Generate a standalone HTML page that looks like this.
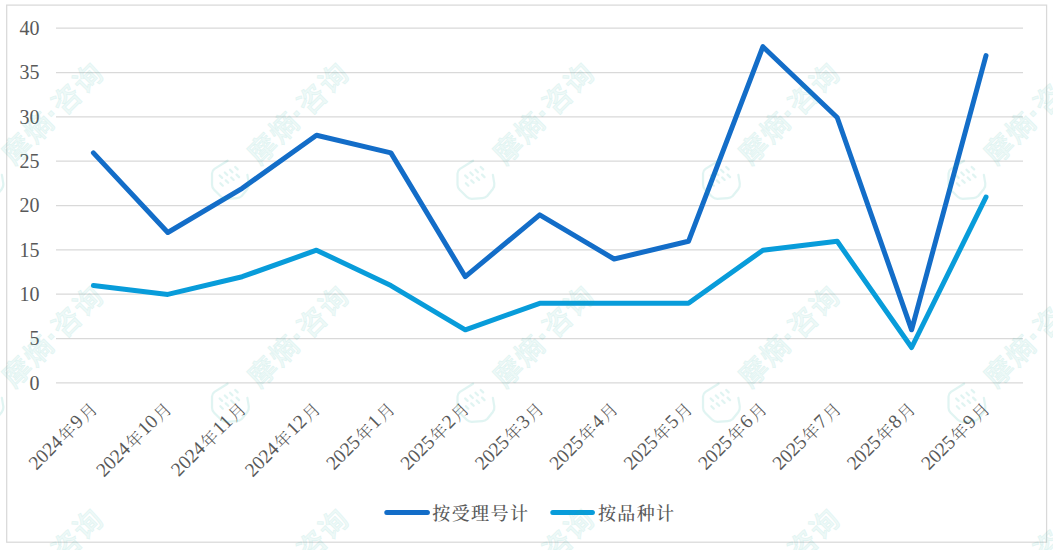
<!DOCTYPE html>
<html><head><meta charset="utf-8"><title>chart</title>
<style>
html,body{margin:0;padding:0;background:#fff;}
body{width:1053px;height:550px;overflow:hidden;}
svg{display:block;}
.ax{font-family:"Liberation Serif","Noto Serif CJK SC",serif;font-size:20px;fill:#595959;}
.xl{font-size:19.5px;}
.c{font-family:"Noto Serif CJK SC",serif;font-size:17px;font-weight:300;}
.lg{font-family:"Liberation Serif","Noto Serif CJK SC",serif;font-size:18px;fill:#595959;letter-spacing:1.4px;font-weight:500;}
</style></head>
<body>
<svg width="1053" height="550" viewBox="0 0 1053 550">

<rect x="6.7" y="5.1" width="1039.9" height="537.1" fill="none" stroke="#d9d9d9" stroke-width="1.25"/>
<g stroke="#d9d9d9" stroke-width="1.25"><line x1="56.0" y1="382.9" x2="1023.0" y2="382.9"/><line x1="56.0" y1="338.56" x2="1023.0" y2="338.56"/><line x1="56.0" y1="294.22" x2="1023.0" y2="294.22"/><line x1="56.0" y1="249.89" x2="1023.0" y2="249.89"/><line x1="56.0" y1="205.55" x2="1023.0" y2="205.55"/><line x1="56.0" y1="161.21" x2="1023.0" y2="161.21"/><line x1="56.0" y1="116.88" x2="1023.0" y2="116.88"/><line x1="56.0" y1="72.54" x2="1023.0" y2="72.54"/><line x1="56.0" y1="28.2" x2="1023.0" y2="28.2"/></g>
<g class="ax" text-anchor="end"><text x="39.5" y="389.7">0</text><text x="39.5" y="345.4">5</text><text x="39.5" y="301.0">10</text><text x="39.5" y="256.7">15</text><text x="39.5" y="212.3">20</text><text x="39.5" y="168.0">25</text><text x="39.5" y="123.7">30</text><text x="39.5" y="79.3">35</text><text x="39.5" y="35.0">40</text></g>
<g class="ax xl" text-anchor="end"><text transform="translate(97.7,409.6) rotate(-45)">2024<tspan class="c" dx="1.3" dy="1">年</tspan><tspan dx="1.3" dy="-1">9</tspan><tspan class="c" dx="1.3" dy="1">月</tspan></text><text transform="translate(172.1,409.6) rotate(-45)">2024<tspan class="c" dx="1.3" dy="1">年</tspan><tspan dx="1.3" dy="-1">10</tspan><tspan class="c" dx="1.3" dy="1">月</tspan></text><text transform="translate(246.5,409.6) rotate(-45)">2024<tspan class="c" dx="1.3" dy="1">年</tspan><tspan dx="1.3" dy="-1">11</tspan><tspan class="c" dx="1.3" dy="1">月</tspan></text><text transform="translate(320.8,409.6) rotate(-45)">2024<tspan class="c" dx="1.3" dy="1">年</tspan><tspan dx="1.3" dy="-1">12</tspan><tspan class="c" dx="1.3" dy="1">月</tspan></text><text transform="translate(395.2,409.6) rotate(-45)">2025<tspan class="c" dx="1.3" dy="1">年</tspan><tspan dx="1.3" dy="-1">1</tspan><tspan class="c" dx="1.3" dy="1">月</tspan></text><text transform="translate(469.6,409.6) rotate(-45)">2025<tspan class="c" dx="1.3" dy="1">年</tspan><tspan dx="1.3" dy="-1">2</tspan><tspan class="c" dx="1.3" dy="1">月</tspan></text><text transform="translate(544.0,409.6) rotate(-45)">2025<tspan class="c" dx="1.3" dy="1">年</tspan><tspan dx="1.3" dy="-1">3</tspan><tspan class="c" dx="1.3" dy="1">月</tspan></text><text transform="translate(618.4,409.6) rotate(-45)">2025<tspan class="c" dx="1.3" dy="1">年</tspan><tspan dx="1.3" dy="-1">4</tspan><tspan class="c" dx="1.3" dy="1">月</tspan></text><text transform="translate(692.8,409.6) rotate(-45)">2025<tspan class="c" dx="1.3" dy="1">年</tspan><tspan dx="1.3" dy="-1">5</tspan><tspan class="c" dx="1.3" dy="1">月</tspan></text><text transform="translate(767.2,409.6) rotate(-45)">2025<tspan class="c" dx="1.3" dy="1">年</tspan><tspan dx="1.3" dy="-1">6</tspan><tspan class="c" dx="1.3" dy="1">月</tspan></text><text transform="translate(841.5,409.6) rotate(-45)">2025<tspan class="c" dx="1.3" dy="1">年</tspan><tspan dx="1.3" dy="-1">7</tspan><tspan class="c" dx="1.3" dy="1">月</tspan></text><text transform="translate(915.9,409.6) rotate(-45)">2025<tspan class="c" dx="1.3" dy="1">年</tspan><tspan dx="1.3" dy="-1">8</tspan><tspan class="c" dx="1.3" dy="1">月</tspan></text><text transform="translate(990.3,409.6) rotate(-45)">2025<tspan class="c" dx="1.3" dy="1">年</tspan><tspan dx="1.3" dy="-1">9</tspan><tspan class="c" dx="1.3" dy="1">月</tspan></text></g>
<polyline points="93.4,152.9 167.8,232.5 242.2,188.3 316.5,135.2 390.9,152.9 465.3,276.7 539.7,214.8 614.1,259.0 688.5,241.3 762.9,46.7 837.2,117.5 911.6,329.8 986.0,55.6" fill="none" stroke="#136dc8" stroke-width="5" stroke-linecap="round" stroke-linejoin="round"/>
<polyline points="93.4,285.6 167.8,294.4 242.2,276.7 316.5,250.2 390.9,285.6 465.3,329.8 539.7,303.3 614.1,303.3 688.5,303.3 762.9,250.2 837.2,241.3 911.6,347.5 986.0,197.1" fill="none" stroke="#089cda" stroke-width="5" stroke-linecap="round" stroke-linejoin="round"/>
<line x1="386.8" y1="512.6" x2="427.4" y2="512.6" stroke="#136dc8" stroke-width="5" stroke-linecap="round"/>
<line x1="552.8" y1="512.6" x2="592.4" y2="512.6" stroke="#089cda" stroke-width="5" stroke-linecap="round"/>
<text class="lg" x="432.3" y="520.2">按受理号计</text>
<text class="lg" x="597.9" y="520.2">按品种计</text>
<g id="wms"><g transform="translate(-260.6,-42.5) rotate(-45)" opacity="0.13">
 <path d="M12,-16 L-3,-19.5 Q-6,-20 -8,-18 L-16,-10 Q-18,-8 -18,-5 L-18,5 Q-18,8 -16,10 L-8,17 Q-6,19 -3,19 L6,18 Q9,17.5 11,15 L16,8" fill="none" stroke="#19afa0" stroke-width="2.2" stroke-linejoin="round" stroke-linecap="round"/>
 <path d="M-4.0,-11.2v3.5M1.7,-9.6v3.5M7.3,-7.9v3.5M13.0,-6.2v3.5M-9.0,-5.2v3.5M-3.2,-3.4v3.5M2.7,-1.6v3.5M8.5,0.2v3.5" fill="none" stroke="#19afa0" stroke-width="2.2" stroke-linecap="round"/>
 <text x="31" y="10.6" fill="#19afa0" fill-opacity="0.55" stroke="#19afa0" stroke-width="0.8" font-family="'Noto Sans CJK SC',sans-serif" font-weight="500" font-size="28" letter-spacing="2">摩熵<tspan font-family="'Liberation Sans',sans-serif" font-weight="700" font-size="30" dx="-1" dy="-1">·</tspan><tspan dy="1" dx="-1">咨询</tspan></text>
</g><g transform="translate(-260.6,180.5) rotate(-45)" opacity="0.13">
 <path d="M12,-16 L-3,-19.5 Q-6,-20 -8,-18 L-16,-10 Q-18,-8 -18,-5 L-18,5 Q-18,8 -16,10 L-8,17 Q-6,19 -3,19 L6,18 Q9,17.5 11,15 L16,8" fill="none" stroke="#19afa0" stroke-width="2.2" stroke-linejoin="round" stroke-linecap="round"/>
 <path d="M-4.0,-11.2v3.5M1.7,-9.6v3.5M7.3,-7.9v3.5M13.0,-6.2v3.5M-9.0,-5.2v3.5M-3.2,-3.4v3.5M2.7,-1.6v3.5M8.5,0.2v3.5" fill="none" stroke="#19afa0" stroke-width="2.2" stroke-linecap="round"/>
 <text x="31" y="10.6" fill="#19afa0" fill-opacity="0.55" stroke="#19afa0" stroke-width="0.8" font-family="'Noto Sans CJK SC',sans-serif" font-weight="500" font-size="28" letter-spacing="2">摩熵<tspan font-family="'Liberation Sans',sans-serif" font-weight="700" font-size="30" dx="-1" dy="-1">·</tspan><tspan dy="1" dx="-1">咨询</tspan></text>
</g><g transform="translate(-260.6,403.5) rotate(-45)" opacity="0.13">
 <path d="M12,-16 L-3,-19.5 Q-6,-20 -8,-18 L-16,-10 Q-18,-8 -18,-5 L-18,5 Q-18,8 -16,10 L-8,17 Q-6,19 -3,19 L6,18 Q9,17.5 11,15 L16,8" fill="none" stroke="#19afa0" stroke-width="2.2" stroke-linejoin="round" stroke-linecap="round"/>
 <path d="M-4.0,-11.2v3.5M1.7,-9.6v3.5M7.3,-7.9v3.5M13.0,-6.2v3.5M-9.0,-5.2v3.5M-3.2,-3.4v3.5M2.7,-1.6v3.5M8.5,0.2v3.5" fill="none" stroke="#19afa0" stroke-width="2.2" stroke-linecap="round"/>
 <text x="31" y="10.6" fill="#19afa0" fill-opacity="0.55" stroke="#19afa0" stroke-width="0.8" font-family="'Noto Sans CJK SC',sans-serif" font-weight="500" font-size="28" letter-spacing="2">摩熵<tspan font-family="'Liberation Sans',sans-serif" font-weight="700" font-size="30" dx="-1" dy="-1">·</tspan><tspan dy="1" dx="-1">咨询</tspan></text>
</g><g transform="translate(-260.6,626.5) rotate(-45)" opacity="0.13">
 <path d="M12,-16 L-3,-19.5 Q-6,-20 -8,-18 L-16,-10 Q-18,-8 -18,-5 L-18,5 Q-18,8 -16,10 L-8,17 Q-6,19 -3,19 L6,18 Q9,17.5 11,15 L16,8" fill="none" stroke="#19afa0" stroke-width="2.2" stroke-linejoin="round" stroke-linecap="round"/>
 <path d="M-4.0,-11.2v3.5M1.7,-9.6v3.5M7.3,-7.9v3.5M13.0,-6.2v3.5M-9.0,-5.2v3.5M-3.2,-3.4v3.5M2.7,-1.6v3.5M8.5,0.2v3.5" fill="none" stroke="#19afa0" stroke-width="2.2" stroke-linecap="round"/>
 <text x="31" y="10.6" fill="#19afa0" fill-opacity="0.55" stroke="#19afa0" stroke-width="0.8" font-family="'Noto Sans CJK SC',sans-serif" font-weight="500" font-size="28" letter-spacing="2">摩熵<tspan font-family="'Liberation Sans',sans-serif" font-weight="700" font-size="30" dx="-1" dy="-1">·</tspan><tspan dy="1" dx="-1">咨询</tspan></text>
</g><g transform="translate(-15.1,-42.5) rotate(-45)" opacity="0.13">
 <path d="M12,-16 L-3,-19.5 Q-6,-20 -8,-18 L-16,-10 Q-18,-8 -18,-5 L-18,5 Q-18,8 -16,10 L-8,17 Q-6,19 -3,19 L6,18 Q9,17.5 11,15 L16,8" fill="none" stroke="#19afa0" stroke-width="2.2" stroke-linejoin="round" stroke-linecap="round"/>
 <path d="M-4.0,-11.2v3.5M1.7,-9.6v3.5M7.3,-7.9v3.5M13.0,-6.2v3.5M-9.0,-5.2v3.5M-3.2,-3.4v3.5M2.7,-1.6v3.5M8.5,0.2v3.5" fill="none" stroke="#19afa0" stroke-width="2.2" stroke-linecap="round"/>
 <text x="31" y="10.6" fill="#19afa0" fill-opacity="0.55" stroke="#19afa0" stroke-width="0.8" font-family="'Noto Sans CJK SC',sans-serif" font-weight="500" font-size="28" letter-spacing="2">摩熵<tspan font-family="'Liberation Sans',sans-serif" font-weight="700" font-size="30" dx="-1" dy="-1">·</tspan><tspan dy="1" dx="-1">咨询</tspan></text>
</g><g transform="translate(-15.1,180.5) rotate(-45)" opacity="0.13">
 <path d="M12,-16 L-3,-19.5 Q-6,-20 -8,-18 L-16,-10 Q-18,-8 -18,-5 L-18,5 Q-18,8 -16,10 L-8,17 Q-6,19 -3,19 L6,18 Q9,17.5 11,15 L16,8" fill="none" stroke="#19afa0" stroke-width="2.2" stroke-linejoin="round" stroke-linecap="round"/>
 <path d="M-4.0,-11.2v3.5M1.7,-9.6v3.5M7.3,-7.9v3.5M13.0,-6.2v3.5M-9.0,-5.2v3.5M-3.2,-3.4v3.5M2.7,-1.6v3.5M8.5,0.2v3.5" fill="none" stroke="#19afa0" stroke-width="2.2" stroke-linecap="round"/>
 <text x="31" y="10.6" fill="#19afa0" fill-opacity="0.55" stroke="#19afa0" stroke-width="0.8" font-family="'Noto Sans CJK SC',sans-serif" font-weight="500" font-size="28" letter-spacing="2">摩熵<tspan font-family="'Liberation Sans',sans-serif" font-weight="700" font-size="30" dx="-1" dy="-1">·</tspan><tspan dy="1" dx="-1">咨询</tspan></text>
</g><g transform="translate(-15.1,403.5) rotate(-45)" opacity="0.13">
 <path d="M12,-16 L-3,-19.5 Q-6,-20 -8,-18 L-16,-10 Q-18,-8 -18,-5 L-18,5 Q-18,8 -16,10 L-8,17 Q-6,19 -3,19 L6,18 Q9,17.5 11,15 L16,8" fill="none" stroke="#19afa0" stroke-width="2.2" stroke-linejoin="round" stroke-linecap="round"/>
 <path d="M-4.0,-11.2v3.5M1.7,-9.6v3.5M7.3,-7.9v3.5M13.0,-6.2v3.5M-9.0,-5.2v3.5M-3.2,-3.4v3.5M2.7,-1.6v3.5M8.5,0.2v3.5" fill="none" stroke="#19afa0" stroke-width="2.2" stroke-linecap="round"/>
 <text x="31" y="10.6" fill="#19afa0" fill-opacity="0.55" stroke="#19afa0" stroke-width="0.8" font-family="'Noto Sans CJK SC',sans-serif" font-weight="500" font-size="28" letter-spacing="2">摩熵<tspan font-family="'Liberation Sans',sans-serif" font-weight="700" font-size="30" dx="-1" dy="-1">·</tspan><tspan dy="1" dx="-1">咨询</tspan></text>
</g><g transform="translate(-15.1,626.5) rotate(-45)" opacity="0.13">
 <path d="M12,-16 L-3,-19.5 Q-6,-20 -8,-18 L-16,-10 Q-18,-8 -18,-5 L-18,5 Q-18,8 -16,10 L-8,17 Q-6,19 -3,19 L6,18 Q9,17.5 11,15 L16,8" fill="none" stroke="#19afa0" stroke-width="2.2" stroke-linejoin="round" stroke-linecap="round"/>
 <path d="M-4.0,-11.2v3.5M1.7,-9.6v3.5M7.3,-7.9v3.5M13.0,-6.2v3.5M-9.0,-5.2v3.5M-3.2,-3.4v3.5M2.7,-1.6v3.5M8.5,0.2v3.5" fill="none" stroke="#19afa0" stroke-width="2.2" stroke-linecap="round"/>
 <text x="31" y="10.6" fill="#19afa0" fill-opacity="0.55" stroke="#19afa0" stroke-width="0.8" font-family="'Noto Sans CJK SC',sans-serif" font-weight="500" font-size="28" letter-spacing="2">摩熵<tspan font-family="'Liberation Sans',sans-serif" font-weight="700" font-size="30" dx="-1" dy="-1">·</tspan><tspan dy="1" dx="-1">咨询</tspan></text>
</g><g transform="translate(230.4,-42.5) rotate(-45)" opacity="0.13">
 <path d="M12,-16 L-3,-19.5 Q-6,-20 -8,-18 L-16,-10 Q-18,-8 -18,-5 L-18,5 Q-18,8 -16,10 L-8,17 Q-6,19 -3,19 L6,18 Q9,17.5 11,15 L16,8" fill="none" stroke="#19afa0" stroke-width="2.2" stroke-linejoin="round" stroke-linecap="round"/>
 <path d="M-4.0,-11.2v3.5M1.7,-9.6v3.5M7.3,-7.9v3.5M13.0,-6.2v3.5M-9.0,-5.2v3.5M-3.2,-3.4v3.5M2.7,-1.6v3.5M8.5,0.2v3.5" fill="none" stroke="#19afa0" stroke-width="2.2" stroke-linecap="round"/>
 <text x="31" y="10.6" fill="#19afa0" fill-opacity="0.55" stroke="#19afa0" stroke-width="0.8" font-family="'Noto Sans CJK SC',sans-serif" font-weight="500" font-size="28" letter-spacing="2">摩熵<tspan font-family="'Liberation Sans',sans-serif" font-weight="700" font-size="30" dx="-1" dy="-1">·</tspan><tspan dy="1" dx="-1">咨询</tspan></text>
</g><g transform="translate(230.4,180.5) rotate(-45)" opacity="0.13">
 <path d="M12,-16 L-3,-19.5 Q-6,-20 -8,-18 L-16,-10 Q-18,-8 -18,-5 L-18,5 Q-18,8 -16,10 L-8,17 Q-6,19 -3,19 L6,18 Q9,17.5 11,15 L16,8" fill="none" stroke="#19afa0" stroke-width="2.2" stroke-linejoin="round" stroke-linecap="round"/>
 <path d="M-4.0,-11.2v3.5M1.7,-9.6v3.5M7.3,-7.9v3.5M13.0,-6.2v3.5M-9.0,-5.2v3.5M-3.2,-3.4v3.5M2.7,-1.6v3.5M8.5,0.2v3.5" fill="none" stroke="#19afa0" stroke-width="2.2" stroke-linecap="round"/>
 <text x="31" y="10.6" fill="#19afa0" fill-opacity="0.55" stroke="#19afa0" stroke-width="0.8" font-family="'Noto Sans CJK SC',sans-serif" font-weight="500" font-size="28" letter-spacing="2">摩熵<tspan font-family="'Liberation Sans',sans-serif" font-weight="700" font-size="30" dx="-1" dy="-1">·</tspan><tspan dy="1" dx="-1">咨询</tspan></text>
</g><g transform="translate(230.4,403.5) rotate(-45)" opacity="0.13">
 <path d="M12,-16 L-3,-19.5 Q-6,-20 -8,-18 L-16,-10 Q-18,-8 -18,-5 L-18,5 Q-18,8 -16,10 L-8,17 Q-6,19 -3,19 L6,18 Q9,17.5 11,15 L16,8" fill="none" stroke="#19afa0" stroke-width="2.2" stroke-linejoin="round" stroke-linecap="round"/>
 <path d="M-4.0,-11.2v3.5M1.7,-9.6v3.5M7.3,-7.9v3.5M13.0,-6.2v3.5M-9.0,-5.2v3.5M-3.2,-3.4v3.5M2.7,-1.6v3.5M8.5,0.2v3.5" fill="none" stroke="#19afa0" stroke-width="2.2" stroke-linecap="round"/>
 <text x="31" y="10.6" fill="#19afa0" fill-opacity="0.55" stroke="#19afa0" stroke-width="0.8" font-family="'Noto Sans CJK SC',sans-serif" font-weight="500" font-size="28" letter-spacing="2">摩熵<tspan font-family="'Liberation Sans',sans-serif" font-weight="700" font-size="30" dx="-1" dy="-1">·</tspan><tspan dy="1" dx="-1">咨询</tspan></text>
</g><g transform="translate(230.4,626.5) rotate(-45)" opacity="0.13">
 <path d="M12,-16 L-3,-19.5 Q-6,-20 -8,-18 L-16,-10 Q-18,-8 -18,-5 L-18,5 Q-18,8 -16,10 L-8,17 Q-6,19 -3,19 L6,18 Q9,17.5 11,15 L16,8" fill="none" stroke="#19afa0" stroke-width="2.2" stroke-linejoin="round" stroke-linecap="round"/>
 <path d="M-4.0,-11.2v3.5M1.7,-9.6v3.5M7.3,-7.9v3.5M13.0,-6.2v3.5M-9.0,-5.2v3.5M-3.2,-3.4v3.5M2.7,-1.6v3.5M8.5,0.2v3.5" fill="none" stroke="#19afa0" stroke-width="2.2" stroke-linecap="round"/>
 <text x="31" y="10.6" fill="#19afa0" fill-opacity="0.55" stroke="#19afa0" stroke-width="0.8" font-family="'Noto Sans CJK SC',sans-serif" font-weight="500" font-size="28" letter-spacing="2">摩熵<tspan font-family="'Liberation Sans',sans-serif" font-weight="700" font-size="30" dx="-1" dy="-1">·</tspan><tspan dy="1" dx="-1">咨询</tspan></text>
</g><g transform="translate(475.9,-42.5) rotate(-45)" opacity="0.13">
 <path d="M12,-16 L-3,-19.5 Q-6,-20 -8,-18 L-16,-10 Q-18,-8 -18,-5 L-18,5 Q-18,8 -16,10 L-8,17 Q-6,19 -3,19 L6,18 Q9,17.5 11,15 L16,8" fill="none" stroke="#19afa0" stroke-width="2.2" stroke-linejoin="round" stroke-linecap="round"/>
 <path d="M-4.0,-11.2v3.5M1.7,-9.6v3.5M7.3,-7.9v3.5M13.0,-6.2v3.5M-9.0,-5.2v3.5M-3.2,-3.4v3.5M2.7,-1.6v3.5M8.5,0.2v3.5" fill="none" stroke="#19afa0" stroke-width="2.2" stroke-linecap="round"/>
 <text x="31" y="10.6" fill="#19afa0" fill-opacity="0.55" stroke="#19afa0" stroke-width="0.8" font-family="'Noto Sans CJK SC',sans-serif" font-weight="500" font-size="28" letter-spacing="2">摩熵<tspan font-family="'Liberation Sans',sans-serif" font-weight="700" font-size="30" dx="-1" dy="-1">·</tspan><tspan dy="1" dx="-1">咨询</tspan></text>
</g><g transform="translate(475.9,180.5) rotate(-45)" opacity="0.13">
 <path d="M12,-16 L-3,-19.5 Q-6,-20 -8,-18 L-16,-10 Q-18,-8 -18,-5 L-18,5 Q-18,8 -16,10 L-8,17 Q-6,19 -3,19 L6,18 Q9,17.5 11,15 L16,8" fill="none" stroke="#19afa0" stroke-width="2.2" stroke-linejoin="round" stroke-linecap="round"/>
 <path d="M-4.0,-11.2v3.5M1.7,-9.6v3.5M7.3,-7.9v3.5M13.0,-6.2v3.5M-9.0,-5.2v3.5M-3.2,-3.4v3.5M2.7,-1.6v3.5M8.5,0.2v3.5" fill="none" stroke="#19afa0" stroke-width="2.2" stroke-linecap="round"/>
 <text x="31" y="10.6" fill="#19afa0" fill-opacity="0.55" stroke="#19afa0" stroke-width="0.8" font-family="'Noto Sans CJK SC',sans-serif" font-weight="500" font-size="28" letter-spacing="2">摩熵<tspan font-family="'Liberation Sans',sans-serif" font-weight="700" font-size="30" dx="-1" dy="-1">·</tspan><tspan dy="1" dx="-1">咨询</tspan></text>
</g><g transform="translate(475.9,403.5) rotate(-45)" opacity="0.13">
 <path d="M12,-16 L-3,-19.5 Q-6,-20 -8,-18 L-16,-10 Q-18,-8 -18,-5 L-18,5 Q-18,8 -16,10 L-8,17 Q-6,19 -3,19 L6,18 Q9,17.5 11,15 L16,8" fill="none" stroke="#19afa0" stroke-width="2.2" stroke-linejoin="round" stroke-linecap="round"/>
 <path d="M-4.0,-11.2v3.5M1.7,-9.6v3.5M7.3,-7.9v3.5M13.0,-6.2v3.5M-9.0,-5.2v3.5M-3.2,-3.4v3.5M2.7,-1.6v3.5M8.5,0.2v3.5" fill="none" stroke="#19afa0" stroke-width="2.2" stroke-linecap="round"/>
 <text x="31" y="10.6" fill="#19afa0" fill-opacity="0.55" stroke="#19afa0" stroke-width="0.8" font-family="'Noto Sans CJK SC',sans-serif" font-weight="500" font-size="28" letter-spacing="2">摩熵<tspan font-family="'Liberation Sans',sans-serif" font-weight="700" font-size="30" dx="-1" dy="-1">·</tspan><tspan dy="1" dx="-1">咨询</tspan></text>
</g><g transform="translate(475.9,626.5) rotate(-45)" opacity="0.13">
 <path d="M12,-16 L-3,-19.5 Q-6,-20 -8,-18 L-16,-10 Q-18,-8 -18,-5 L-18,5 Q-18,8 -16,10 L-8,17 Q-6,19 -3,19 L6,18 Q9,17.5 11,15 L16,8" fill="none" stroke="#19afa0" stroke-width="2.2" stroke-linejoin="round" stroke-linecap="round"/>
 <path d="M-4.0,-11.2v3.5M1.7,-9.6v3.5M7.3,-7.9v3.5M13.0,-6.2v3.5M-9.0,-5.2v3.5M-3.2,-3.4v3.5M2.7,-1.6v3.5M8.5,0.2v3.5" fill="none" stroke="#19afa0" stroke-width="2.2" stroke-linecap="round"/>
 <text x="31" y="10.6" fill="#19afa0" fill-opacity="0.55" stroke="#19afa0" stroke-width="0.8" font-family="'Noto Sans CJK SC',sans-serif" font-weight="500" font-size="28" letter-spacing="2">摩熵<tspan font-family="'Liberation Sans',sans-serif" font-weight="700" font-size="30" dx="-1" dy="-1">·</tspan><tspan dy="1" dx="-1">咨询</tspan></text>
</g><g transform="translate(721.4,-42.5) rotate(-45)" opacity="0.13">
 <path d="M12,-16 L-3,-19.5 Q-6,-20 -8,-18 L-16,-10 Q-18,-8 -18,-5 L-18,5 Q-18,8 -16,10 L-8,17 Q-6,19 -3,19 L6,18 Q9,17.5 11,15 L16,8" fill="none" stroke="#19afa0" stroke-width="2.2" stroke-linejoin="round" stroke-linecap="round"/>
 <path d="M-4.0,-11.2v3.5M1.7,-9.6v3.5M7.3,-7.9v3.5M13.0,-6.2v3.5M-9.0,-5.2v3.5M-3.2,-3.4v3.5M2.7,-1.6v3.5M8.5,0.2v3.5" fill="none" stroke="#19afa0" stroke-width="2.2" stroke-linecap="round"/>
 <text x="31" y="10.6" fill="#19afa0" fill-opacity="0.55" stroke="#19afa0" stroke-width="0.8" font-family="'Noto Sans CJK SC',sans-serif" font-weight="500" font-size="28" letter-spacing="2">摩熵<tspan font-family="'Liberation Sans',sans-serif" font-weight="700" font-size="30" dx="-1" dy="-1">·</tspan><tspan dy="1" dx="-1">咨询</tspan></text>
</g><g transform="translate(721.4,180.5) rotate(-45)" opacity="0.13">
 <path d="M12,-16 L-3,-19.5 Q-6,-20 -8,-18 L-16,-10 Q-18,-8 -18,-5 L-18,5 Q-18,8 -16,10 L-8,17 Q-6,19 -3,19 L6,18 Q9,17.5 11,15 L16,8" fill="none" stroke="#19afa0" stroke-width="2.2" stroke-linejoin="round" stroke-linecap="round"/>
 <path d="M-4.0,-11.2v3.5M1.7,-9.6v3.5M7.3,-7.9v3.5M13.0,-6.2v3.5M-9.0,-5.2v3.5M-3.2,-3.4v3.5M2.7,-1.6v3.5M8.5,0.2v3.5" fill="none" stroke="#19afa0" stroke-width="2.2" stroke-linecap="round"/>
 <text x="31" y="10.6" fill="#19afa0" fill-opacity="0.55" stroke="#19afa0" stroke-width="0.8" font-family="'Noto Sans CJK SC',sans-serif" font-weight="500" font-size="28" letter-spacing="2">摩熵<tspan font-family="'Liberation Sans',sans-serif" font-weight="700" font-size="30" dx="-1" dy="-1">·</tspan><tspan dy="1" dx="-1">咨询</tspan></text>
</g><g transform="translate(721.4,403.5) rotate(-45)" opacity="0.13">
 <path d="M12,-16 L-3,-19.5 Q-6,-20 -8,-18 L-16,-10 Q-18,-8 -18,-5 L-18,5 Q-18,8 -16,10 L-8,17 Q-6,19 -3,19 L6,18 Q9,17.5 11,15 L16,8" fill="none" stroke="#19afa0" stroke-width="2.2" stroke-linejoin="round" stroke-linecap="round"/>
 <path d="M-4.0,-11.2v3.5M1.7,-9.6v3.5M7.3,-7.9v3.5M13.0,-6.2v3.5M-9.0,-5.2v3.5M-3.2,-3.4v3.5M2.7,-1.6v3.5M8.5,0.2v3.5" fill="none" stroke="#19afa0" stroke-width="2.2" stroke-linecap="round"/>
 <text x="31" y="10.6" fill="#19afa0" fill-opacity="0.55" stroke="#19afa0" stroke-width="0.8" font-family="'Noto Sans CJK SC',sans-serif" font-weight="500" font-size="28" letter-spacing="2">摩熵<tspan font-family="'Liberation Sans',sans-serif" font-weight="700" font-size="30" dx="-1" dy="-1">·</tspan><tspan dy="1" dx="-1">咨询</tspan></text>
</g><g transform="translate(721.4,626.5) rotate(-45)" opacity="0.13">
 <path d="M12,-16 L-3,-19.5 Q-6,-20 -8,-18 L-16,-10 Q-18,-8 -18,-5 L-18,5 Q-18,8 -16,10 L-8,17 Q-6,19 -3,19 L6,18 Q9,17.5 11,15 L16,8" fill="none" stroke="#19afa0" stroke-width="2.2" stroke-linejoin="round" stroke-linecap="round"/>
 <path d="M-4.0,-11.2v3.5M1.7,-9.6v3.5M7.3,-7.9v3.5M13.0,-6.2v3.5M-9.0,-5.2v3.5M-3.2,-3.4v3.5M2.7,-1.6v3.5M8.5,0.2v3.5" fill="none" stroke="#19afa0" stroke-width="2.2" stroke-linecap="round"/>
 <text x="31" y="10.6" fill="#19afa0" fill-opacity="0.55" stroke="#19afa0" stroke-width="0.8" font-family="'Noto Sans CJK SC',sans-serif" font-weight="500" font-size="28" letter-spacing="2">摩熵<tspan font-family="'Liberation Sans',sans-serif" font-weight="700" font-size="30" dx="-1" dy="-1">·</tspan><tspan dy="1" dx="-1">咨询</tspan></text>
</g><g transform="translate(966.9,-42.5) rotate(-45)" opacity="0.13">
 <path d="M12,-16 L-3,-19.5 Q-6,-20 -8,-18 L-16,-10 Q-18,-8 -18,-5 L-18,5 Q-18,8 -16,10 L-8,17 Q-6,19 -3,19 L6,18 Q9,17.5 11,15 L16,8" fill="none" stroke="#19afa0" stroke-width="2.2" stroke-linejoin="round" stroke-linecap="round"/>
 <path d="M-4.0,-11.2v3.5M1.7,-9.6v3.5M7.3,-7.9v3.5M13.0,-6.2v3.5M-9.0,-5.2v3.5M-3.2,-3.4v3.5M2.7,-1.6v3.5M8.5,0.2v3.5" fill="none" stroke="#19afa0" stroke-width="2.2" stroke-linecap="round"/>
 <text x="31" y="10.6" fill="#19afa0" fill-opacity="0.55" stroke="#19afa0" stroke-width="0.8" font-family="'Noto Sans CJK SC',sans-serif" font-weight="500" font-size="28" letter-spacing="2">摩熵<tspan font-family="'Liberation Sans',sans-serif" font-weight="700" font-size="30" dx="-1" dy="-1">·</tspan><tspan dy="1" dx="-1">咨询</tspan></text>
</g><g transform="translate(966.9,180.5) rotate(-45)" opacity="0.13">
 <path d="M12,-16 L-3,-19.5 Q-6,-20 -8,-18 L-16,-10 Q-18,-8 -18,-5 L-18,5 Q-18,8 -16,10 L-8,17 Q-6,19 -3,19 L6,18 Q9,17.5 11,15 L16,8" fill="none" stroke="#19afa0" stroke-width="2.2" stroke-linejoin="round" stroke-linecap="round"/>
 <path d="M-4.0,-11.2v3.5M1.7,-9.6v3.5M7.3,-7.9v3.5M13.0,-6.2v3.5M-9.0,-5.2v3.5M-3.2,-3.4v3.5M2.7,-1.6v3.5M8.5,0.2v3.5" fill="none" stroke="#19afa0" stroke-width="2.2" stroke-linecap="round"/>
 <text x="31" y="10.6" fill="#19afa0" fill-opacity="0.55" stroke="#19afa0" stroke-width="0.8" font-family="'Noto Sans CJK SC',sans-serif" font-weight="500" font-size="28" letter-spacing="2">摩熵<tspan font-family="'Liberation Sans',sans-serif" font-weight="700" font-size="30" dx="-1" dy="-1">·</tspan><tspan dy="1" dx="-1">咨询</tspan></text>
</g><g transform="translate(966.9,403.5) rotate(-45)" opacity="0.13">
 <path d="M12,-16 L-3,-19.5 Q-6,-20 -8,-18 L-16,-10 Q-18,-8 -18,-5 L-18,5 Q-18,8 -16,10 L-8,17 Q-6,19 -3,19 L6,18 Q9,17.5 11,15 L16,8" fill="none" stroke="#19afa0" stroke-width="2.2" stroke-linejoin="round" stroke-linecap="round"/>
 <path d="M-4.0,-11.2v3.5M1.7,-9.6v3.5M7.3,-7.9v3.5M13.0,-6.2v3.5M-9.0,-5.2v3.5M-3.2,-3.4v3.5M2.7,-1.6v3.5M8.5,0.2v3.5" fill="none" stroke="#19afa0" stroke-width="2.2" stroke-linecap="round"/>
 <text x="31" y="10.6" fill="#19afa0" fill-opacity="0.55" stroke="#19afa0" stroke-width="0.8" font-family="'Noto Sans CJK SC',sans-serif" font-weight="500" font-size="28" letter-spacing="2">摩熵<tspan font-family="'Liberation Sans',sans-serif" font-weight="700" font-size="30" dx="-1" dy="-1">·</tspan><tspan dy="1" dx="-1">咨询</tspan></text>
</g><g transform="translate(966.9,626.5) rotate(-45)" opacity="0.13">
 <path d="M12,-16 L-3,-19.5 Q-6,-20 -8,-18 L-16,-10 Q-18,-8 -18,-5 L-18,5 Q-18,8 -16,10 L-8,17 Q-6,19 -3,19 L6,18 Q9,17.5 11,15 L16,8" fill="none" stroke="#19afa0" stroke-width="2.2" stroke-linejoin="round" stroke-linecap="round"/>
 <path d="M-4.0,-11.2v3.5M1.7,-9.6v3.5M7.3,-7.9v3.5M13.0,-6.2v3.5M-9.0,-5.2v3.5M-3.2,-3.4v3.5M2.7,-1.6v3.5M8.5,0.2v3.5" fill="none" stroke="#19afa0" stroke-width="2.2" stroke-linecap="round"/>
 <text x="31" y="10.6" fill="#19afa0" fill-opacity="0.55" stroke="#19afa0" stroke-width="0.8" font-family="'Noto Sans CJK SC',sans-serif" font-weight="500" font-size="28" letter-spacing="2">摩熵<tspan font-family="'Liberation Sans',sans-serif" font-weight="700" font-size="30" dx="-1" dy="-1">·</tspan><tspan dy="1" dx="-1">咨询</tspan></text>
</g></g>
</svg>
</body></html>
